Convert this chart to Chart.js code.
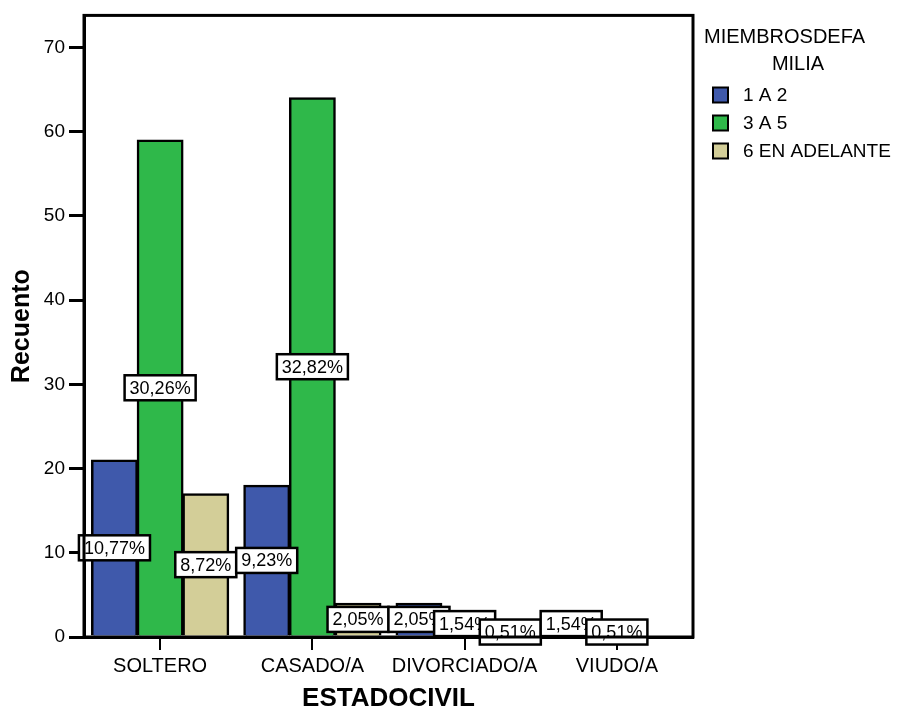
<!DOCTYPE html>
<html>
<head>
<meta charset="utf-8">
<script src="https://cdn.jsdelivr.net/npm/chart.js@4.4.1/dist/chart.umd.min.js"></script>
<style>
  html, body { margin: 0; padding: 0; background: #fff; }
  #wrap { width: 901px; height: 709px; position: relative; }
</style>
</head>
<body>
<div id="wrap"><canvas id="barChart"></canvas></div>
<script>
// counts per marital status, one array per household-size group
const categories = ['SOLTERO', 'CASADO/A', 'DIVORCIADO/A', 'VIUDO/A'];
const seriesNames = ['1 A 2', '3 A 5', '6 EN ADELANTE'];
const unoADos = [21, 18, 4, 3];
const tresACinco = [59, 64, 3, 1];
const seisOMas = [17, 4, 1, 0];
const yTicks = [0, 10, 20, 30, 40, 50, 60, 70];

const colors = ['#3f59ab', '#2fb84a', '#d3ce98'];
const FONT = 'Arial, "Liberation Sans", sans-serif';

const allValues = [unoADos, tresACinco, seisOMas];
const total = allValues.flat().reduce((a, b) => a + b, 0);

// white boxed percentage at the middle of every bar
const pctLabels = {
  id: 'pctLabels',
  afterDatasetsDraw(chart) {
    const ctx = chart.ctx;
    ctx.save();
    ctx.font = '18px ' + FONT;
    ctx.textAlign = 'center';
    ctx.textBaseline = 'middle';
    categories.forEach((c, i) => {
      chart.data.datasets.forEach((ds, d) => {
        const v = ds.data[i];
        if (!v) return;
        const el = chart.getDatasetMeta(d).data[i];
        const txt = (v / total * 100).toFixed(2).replace('.', ',') + '%';
        const w = ctx.measureText(txt).width + 10;
        const h = 25;
        const cx = el.x;
        const cy = (el.y + el.base) / 2;
        ctx.fillStyle = '#fff';
        ctx.fillRect(cx - w / 2, cy - h / 2, w, h);
        ctx.lineWidth = 2.5;
        ctx.strokeStyle = '#000';
        ctx.strokeRect(cx - w / 2, cy - h / 2, w, h);
        ctx.fillStyle = '#000';
        ctx.fillText(txt, cx, cy + 1);
      });
    });
    ctx.restore();
  }
};

// box round the plot area plus the legend on the right
const frameAndLegend = {
  id: 'frameAndLegend',
  afterDraw(chart) {
    const ctx = chart.ctx;
    const a = chart.chartArea;
    ctx.save();
    ctx.lineWidth = 3;
    ctx.strokeStyle = '#000';
    ctx.strokeRect(a.left, a.top, a.right - a.left, a.bottom - a.top);

    ctx.fillStyle = '#000';
    ctx.textBaseline = 'middle';
    ctx.font = '20px ' + FONT;
    ctx.textAlign = 'left';
    ctx.fillText('MIEMBROSDEFA', a.right + 11, 37);
    ctx.textAlign = 'center';
    ctx.fillText('MILIA', a.right + 105, 64);

    ctx.font = '19px ' + FONT;
    ctx.textAlign = 'left';
    chart.data.datasets.forEach((ds, d) => {
      const y = 95 + d * 28;
      ctx.fillStyle = ds.backgroundColor;
      ctx.fillRect(a.right + 20, y - 7.5, 15, 15);
      ctx.lineWidth = 2;
      ctx.strokeRect(a.right + 20, y - 7.5, 15, 15);
      ctx.fillStyle = '#000';
      ctx.fillText(ds.label, a.right + 50, y + 1);
    });
    ctx.restore();
  }
};

new Chart(document.getElementById('barChart'), {
  type: 'bar',
  data: {
    labels: categories,
    datasets: seriesNames.map((name, i) => ({
      label: name,
      data: allValues[i],
      backgroundColor: colors[i],
      borderColor: '#000',
      borderWidth: 2.5,
      borderSkipped: 'start',
      inflateAmount: 0.6,
      barPercentage: 1.0,
      categoryPercentage: 0.9
    }))
  },
  options: {
    responsive: true,
    maintainAspectRatio: false,
    animation: false,
    layout: { padding: { top: 15, right: 208, left: 0, bottom: 0 } },
    plugins: {
      legend: { display: false },
      tooltip: { enabled: false }
    },
    scales: {
      x: {
        afterFit(scale) { scale.height = 72; },
        grid: {
          offset: false,
          drawOnChartArea: false,
          color: '#000',
          lineWidth: 2,
          tickLength: 13
        },
        border: { display: true, color: '#000', width: 3 },
        ticks: { color: '#000', font: { family: FONT, size: 20 }, padding: 4, maxRotation: 0 },
        title: {
          display: true,
          text: 'ESTADOCIVIL',
          color: '#000',
          font: { family: FONT, size: 26, weight: 'bold', lineHeight: 0.8 },
          padding: { top: 0, bottom: 0 }
        }
      },
      y: {
        min: 0,
        max: 73.8,
        afterFit(scale) { scale.width = 84; },
        afterBuildTicks(scale) { scale.ticks = yTicks.map(v => ({ value: v })); },
        grid: {
          drawOnChartArea: false,
          color: '#000',
          lineWidth: 3,
          tickLength: 15
        },
        border: { display: true, color: '#000', width: 3 },
        ticks: { color: '#000', font: { family: FONT, size: 19 }, padding: 4 },
        title: {
          display: true,
          text: 'Recuento',
          color: '#000',
          font: { family: FONT, size: 25, weight: 'bold', lineHeight: 1 },
          padding: { top: 10, bottom: 0 }
        }
      }
    }
  },
  plugins: [pctLabels, frameAndLegend]
});
</script>
</body>
</html>
